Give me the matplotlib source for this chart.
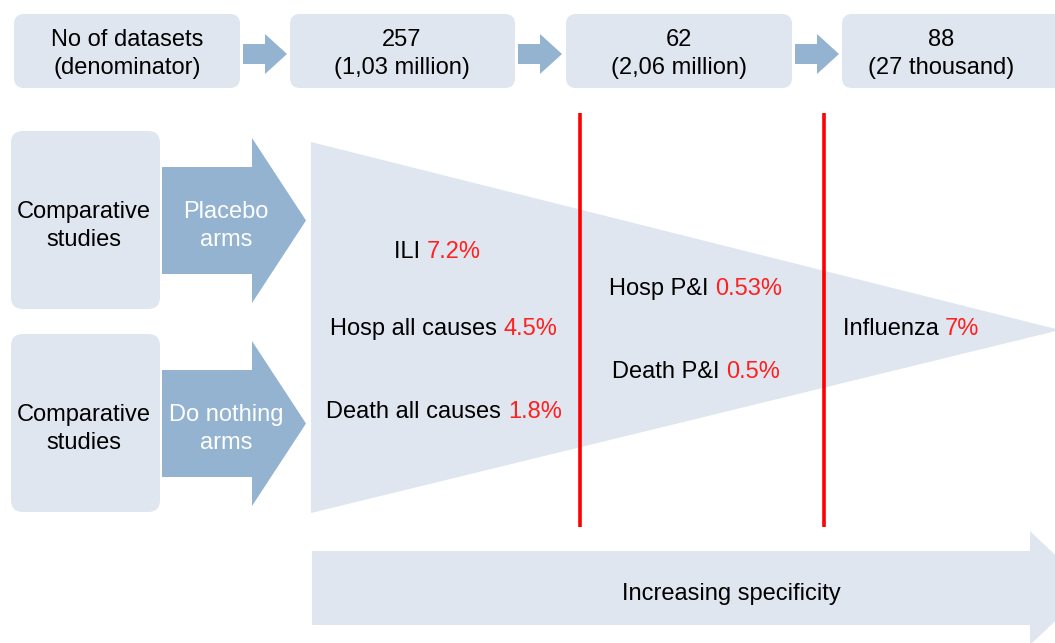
import matplotlib
matplotlib.use("Agg")
import matplotlib.pyplot as plt
from matplotlib.patches import FancyBboxPatch, Polygon

plt.rcParams['font.family'] = ['Liberation Sans', 'DejaVu Sans']

# top row: dataset counts
top_labels = ["No of datasets\n(denominator)", "257\n(1,03 million)",
              "62\n(2,06 million)", "88\n(27 thousand)"]
# left side: study sources
source_labels = ["Comparative\nstudies", "Comparative\nstudies"]
arm_labels = ["Placebo\narms", "Do nothing\narms"]
# outcome rates inside the funnel
outcome_names = ["ILI", "Hosp all causes", "Death all causes",
                 "Hosp P&I", "Death P&I", "Influenza"]
outcome_rates = ["7.2%", "4.5%", "1.8%", "0.53%", "0.5%", "7%"]
bottom_label = "Increasing specificity"

BOX = "#dfe6ef"
ARROW = "#93b3d1"
RED = "#ff2020"
FS = 17
LS = 1.4

fig = plt.figure(figsize=(10.55, 6.43), dpi=100)
ax = fig.add_axes([0, 0, 1, 1])
ax.set_xlim(0, 1055)
ax.set_ylim(643, 0)
ax.axis('off')


def rbox(x0, y0, x1, y1, r=10):
    ax.add_patch(FancyBboxPatch((x0, y0), x1 - x0, y1 - y0,
                                boxstyle=f"round,pad=0,rounding_size={r}",
                                fc=BOX, ec='none'))


def arrow(x0, x1, xh, ys0, ys1, yh0, yh1, color=ARROW):
    yc = (yh0 + yh1) / 2
    pts = [(x0, ys0), (xh, ys0), (xh, yh0), (x1, yc), (xh, yh1), (xh, ys1), (x0, ys1)]
    ax.add_patch(Polygon(pts, closed=True, fc=color, ec='none'))


# top row boxes and arrows
top_x = [(14, 240), (290, 515), (566, 792), (842, 1070)]
top_cx = [127, 402, 679, 941]
for (x0, x1), cx, lab in zip(top_x, top_cx, top_labels):
    rbox(x0, 14, x1, 88)
    ax.text(cx, 54, lab, ha='center', va='center', fontsize=FS, linespacing=LS)
for xa in [243, 518, 795]:
    arrow(xa, xa + 44, xa + 22, 44, 64, 34, 74)

# funnel triangle
ax.add_patch(Polygon([(311, 142), (1060, 330), (311, 513)], closed=True,
                     fc=BOX, ec='none'))

# left boxes and arms
for i, (src, arm) in enumerate(zip(source_labels, arm_labels)):
    y0 = 131 + i * 203
    rbox(11, y0, 160, y0 + 178, r=12)
    ax.text(84, y0 + 95, src, ha='center', va='center', fontsize=FS,
            linespacing=LS)
    arrow(162, 306, 252, y0 + 36, y0 + 143, y0 + 7, y0 + 172)
    ax.text(226, y0 + 95, arm, ha='center', va='center', fontsize=FS,
            color='white', linespacing=LS)

# red dividers
for xr in [580, 824]:
    ax.plot([xr, xr], [113, 527], color='#ff0000', lw=2.6, solid_capstyle='butt')

# bottom arrow
arrow(312, 1090, 1030, 551, 625, 531, 645, color=BOX)
ax.text(731, 594, bottom_label, ha='center', va='center', fontsize=FS)

# outcome labels (black name + red rate), centred
fig.canvas.draw()
renderer = fig.canvas.get_renderer()
pos = [(437, 252), (444, 329), (444, 412), (696, 289), (696, 372), (911, 329)]
for name, rate, (cx, cy) in zip(outcome_names, outcome_rates, pos):
    t1 = ax.text(0, cy, name + " ", ha='left', va='center', fontsize=FS)
    t2 = ax.text(0, cy, rate, ha='left', va='center', fontsize=FS, color=RED)
    w1 = t1.get_window_extent(renderer).width
    w2 = t2.get_window_extent(renderer).width
    x0 = cx - (w1 + w2) / 2
    t1.set_x(x0)
    t2.set_x(x0 + w1)

fig.savefig("out.png", dpi=100)
